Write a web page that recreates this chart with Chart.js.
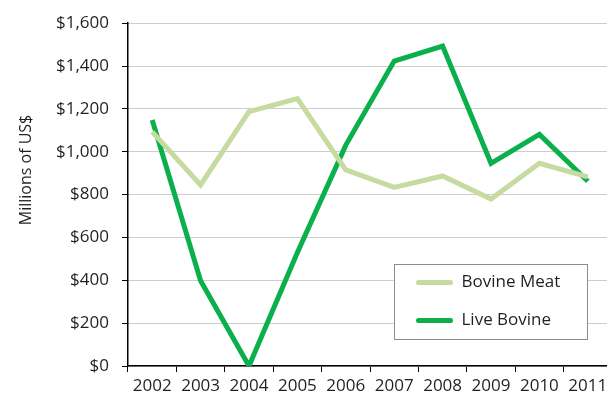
<!DOCTYPE html>
<html>
<head>
<meta charset="utf-8">
<script src="https://cdn.jsdelivr.net/npm/chart.js@4"></script>
<style>
  html, body { margin: 0; padding: 0; background: #fff; overflow: hidden; }
  #wrap { position: relative; width: 612px; height: 400px; }
</style>
</head>
<body>
<div id="wrap"><canvas id="chart1"></canvas></div>
<script>
// Exports by year, millions of US$
var years = ["2002", "2003", "2004", "2005", "2006", "2007", "2008", "2009", "2010", "2011"];
var bovineMeat = [1093, 845, 1187, 1248, 915, 834, 887, 779, 946, 883];
var liveBovine = [1148, 398, 0, 530, 1031, 1423, 1493, 946, 1081, 862];
var yTicks = [0, 200, 400, 600, 800, 1000, 1200, 1400, 1600];

var FONT = "'Open Sans', sans-serif";
var TEXT = "#231f20";

Chart.defaults.font.family = FONT;
Chart.defaults.font.size = 17;
Chart.defaults.color = TEXT;

const ctx = document.getElementById("chart1");

var myChart = new Chart(ctx, {
  type: "line",
  data: {
    labels: years,
    datasets: [
      {
        label: "Bovine Meat",
        data: bovineMeat,
        borderColor: "#c5db9f",
        backgroundColor: "#c5db9f",
        borderWidth: 5,
        pointRadius: 0,
        tension: 0,
      },
      {
        label: "Live Bovine",
        data: liveBovine,
        borderColor: "#0bb04c",
        backgroundColor: "#0bb04c",
        borderWidth: 5,
        pointRadius: 0,
        tension: 0,
      },
    ],
  },
  options: {
    responsive: true,
    maintainAspectRatio: false,
    animation: false,
    events: [],
    layout: { padding: { top: 23, right: 0, bottom: 0, left: 0 } },
    plugins: {
      legend: { display: false },
      tooltip: { enabled: false },
    },
    scales: {
      x: {
        offset: true,
        grid: {
          offset: true,
          drawOnChartArea: false,
          tickLength: 6,
          tickColor: "#000",
        },
        border: { color: "#000", width: 1.5 },
        ticks: { padding: 4, maxRotation: 0, autoSkip: false },
        afterFit: function (scale) {
          scale.height = 34;
        },
      },
      y: {
        min: 0,
        max: 1600,
        afterBuildTicks: function (scale) {
          scale.ticks = yTicks.map(function (v) { return { value: v }; });
        },
        grid: {
          color: "#9a9a9a",
          lineWidth: 1,
          tickLength: 6,
          tickColor: "#000",
          tickBorderDash: [],
        },
        border: { color: "#000", width: 1.5, dash: [1, 1] },
        ticks: {
          padding: 13,
          callback: function (value) {
            return "$" + value.toLocaleString("en-US");
          },
        },
        afterFit: function (scale) {
          scale.width = 128;
        },
      },
    },
  },
  plugins: [
    {
      // rotated axis title, a little above the middle of the value axis
      id: "axisTitle",
      afterDraw: (chart) => {
        const c = chart.ctx;
        c.save();
        c.translate(26, 170);
        c.rotate(-Math.PI / 2);
        c.font = "16px " + FONT;
        c.fillStyle = TEXT;
        c.textAlign = "center";
        c.textBaseline = "middle";
        c.fillText("Millions of US$", 0, 0);
        c.restore();
      },
    },
    {
      // boxed legend in the lower right of the plot
      id: "boxLegend",
      afterDraw: (chart) => {
        const c = chart.ctx;
        const area = chart.chartArea;
        const w = 193, h = 75;
        const x = Math.round(area.right - 218) + 0.5;
        const y = Math.round(area.bottom - 102) + 0.5;
        c.save();
        c.fillStyle = "#fff";
        c.fillRect(x, y, w, h);
        c.strokeStyle = "#8c8c8c";
        c.lineWidth = 1;
        c.strokeRect(x, y, w, h);
        c.font = "17px " + FONT;
        c.textBaseline = "middle";
        c.textAlign = "left";
        chart.data.datasets.forEach(function (ds, i) {
          const ly = y + 18 + i * 38;
          c.strokeStyle = ds.borderColor;
          c.lineWidth = 5;
          c.lineCap = "round";
          c.beginPath();
          c.moveTo(x + 24, ly);
          c.lineTo(x + 56, ly);
          c.stroke();
          c.fillStyle = TEXT;
          c.fillText(ds.label, x + 67, ly);
        });
        c.restore();
      },
    },
  ],
});
</script>
</body>
</html>
